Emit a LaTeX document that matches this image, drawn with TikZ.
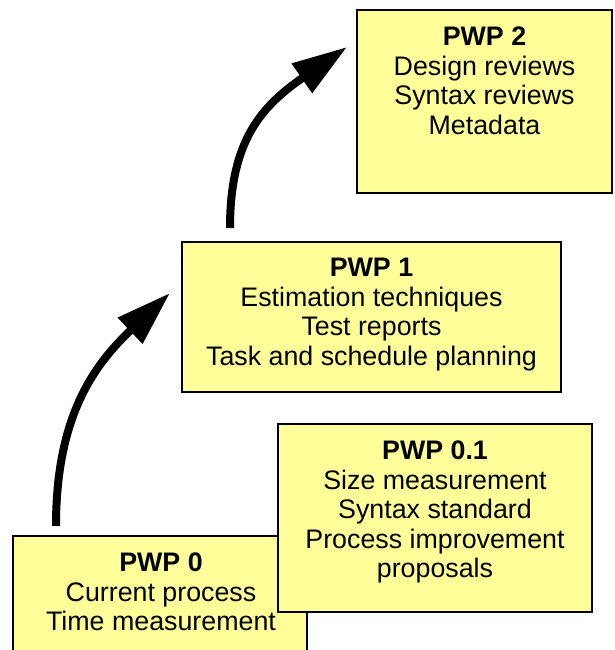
\documentclass[tikz,border=0pt]{standalone}
\usepackage{fontspec}
\setmainfont{Liberation Sans}
\usetikzlibrary{arrows.meta}

\definecolor{boxfill}{RGB}{255,255,153}

\tikzset{
  stage/.style={draw=black, line width=1.5pt, fill=boxfill, inner sep=0pt,
    outer sep=0pt, anchor=north west},
  stagetext/.style={anchor=north, align=center, inner sep=0pt,
    font=\fontsize{26.8}{29.5}\selectfont},
  climb/.style={line width=8pt, -{Triangle[length=55pt, width=34pt]}}
}

\begin{document}
\begin{tikzpicture}[x=1pt, y=-1pt]
  \useasboundingbox (0,0) rectangle (614,650);

  % level 0 and its side step 0.1 (drawn on top)
  \node[stage, minimum width=294pt, minimum height=140pt] (p0) at (13,536) {};
  \node[stagetext] (t0) at (161,553) {\textbf{PWP 0}\\Current process\\Time measurement};

  \node[stage, minimum width=314pt, minimum height=188pt] (p01) at (278,424) {};
  \node[stagetext] (t01) at (435,441) {\textbf{PWP 0.1}\\Size measurement\\Syntax standard\\Process improvement\\proposals};

  % level 1
  \node[stage, minimum width=379pt, minimum height=150pt] (p1) at (182,242) {};
  \node[stagetext] (t1) at (371.5,258) {\textbf{PWP 1}\\Estimation techniques\\Test reports\\Task and schedule planning};

  % level 2
  \node[stage, minimum width=255pt, minimum height=183pt] (p2) at (357,10) {};
  \node[stagetext] (t2) at (484.5,27) {\textbf{PWP 2}\\Design reviews\\Syntax reviews\\Metadata};

  % curved arrows climbing from one level to the next
  \coordinate (a0s) at (56,526);
  \coordinate (a0e) at (170,293);
  \coordinate (a1s) at (230,228);
  \coordinate (a1e) at (347,47);
  \draw[climb] (a0s) .. controls (56,415) and (95,364) .. (a0e);
  \draw[climb] (a1s) .. controls (230,140) and (262,106) .. (a1e);
\end{tikzpicture}
\end{document}
